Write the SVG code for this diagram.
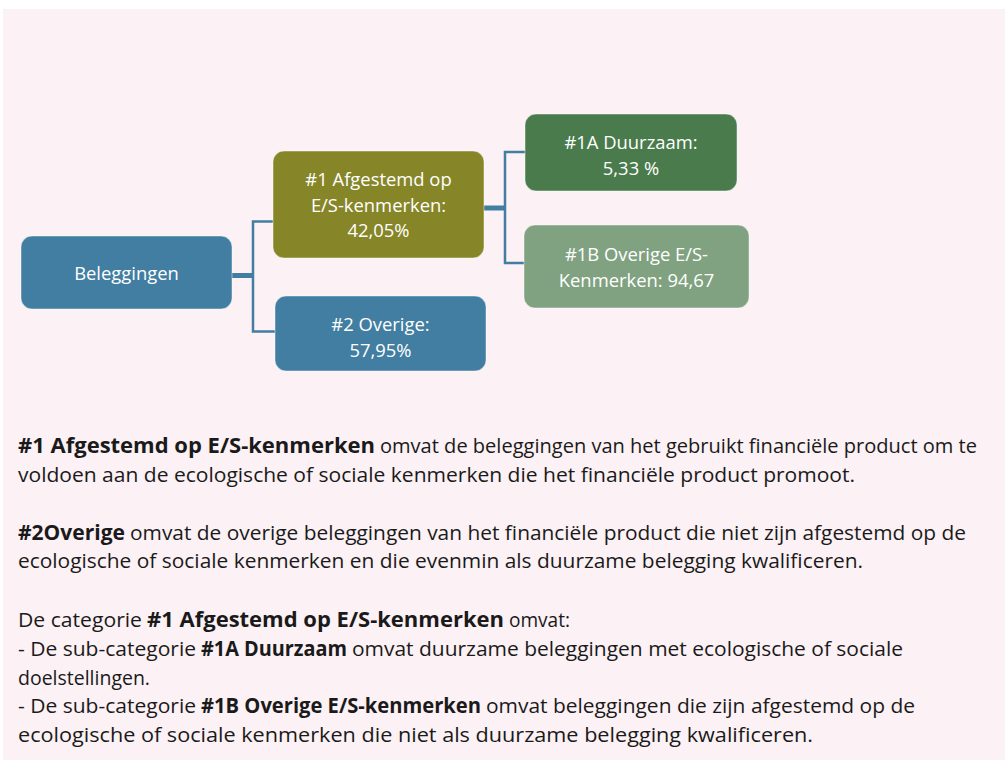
<svg xmlns="http://www.w3.org/2000/svg" width="1005" height="760" viewBox="0 0 1005 760">
<style>
.box{stroke:#ffffff;stroke-opacity:0.45;stroke-width:1}
.lbl{font-family:"Open Sans","Noto Sans","Liberation Sans",sans-serif;font-size:18.4px;fill:#ffffff;text-anchor:middle}
.body{font-family:"Open Sans","Noto Sans","Liberation Sans",sans-serif;font-size:20.5px;fill:#1a1a1a}
.b{font-weight:bold}
.thin{stroke:#417EA1;stroke-width:2.5;fill:none}
.thick{stroke:#417EA1;stroke-width:5;fill:none}
</style>
<rect x="0" y="0" width="1005" height="760" fill="#ffffff"/>
<rect x="3" y="9" width="1002" height="751" fill="#FCF1F4"/>
<g id="connectors">
<line class="thick" x1="232" y1="275.5" x2="253" y2="275.5"/>
<polyline class="thin" points="273,221.5 253,221.5 253,331.5 275,331.5"/>
<line class="thick" x1="484" y1="208" x2="505" y2="208"/>
<polyline class="thin" points="525,152 505,152 505,263 524,263"/>
</g>
<g id="node-beleggingen">
<rect class="box" x="21" y="236" width="211" height="73" rx="11" fill="#417EA1"/>
<text class="lbl" x="126.5" y="280">Beleggingen</text>
</g>
<g id="node-1">
<rect class="box" x="273" y="151" width="211" height="107" rx="11" fill="#868628"/>
<text class="lbl" x="378.5" y="186">#1 Afgestemd op</text>
<text class="lbl" x="378.5" y="211.5">E/S-kenmerken:</text>
<text class="lbl" x="378.5" y="237">42,05%</text>
</g>
<g id="node-2">
<rect class="box" x="275" y="296" width="211" height="75" rx="11" fill="#417EA1"/>
<text class="lbl" x="380.5" y="331">#2 Overige:</text>
<text class="lbl" x="380.5" y="357">57,95%</text>
</g>
<g id="node-1a">
<rect class="box" x="525" y="114" width="212" height="77" rx="11" fill="#4A7B4C"/>
<text class="lbl" x="631" y="149">#1A Duurzaam:</text>
<text class="lbl" x="631" y="175">5,33 %</text>
</g>
<g id="node-1b">
<rect class="box" x="524" y="225" width="225" height="83" rx="11" fill="#80A281"/>
<text class="lbl" x="636.5" y="261">#1B Overige E/S-</text>
<text class="lbl" x="636.5" y="287">Kenmerken: 94,67</text>
</g>
<g id="legend">
<text class="body b" x="18" y="453" textLength="357" lengthAdjust="spacingAndGlyphs">#1 Afgestemd op E/S-kenmerken</text>
<text class="body" x="380" y="453" textLength="597" lengthAdjust="spacingAndGlyphs">omvat de beleggingen van het gebruikt financiële product om te</text>
<text class="body" x="18" y="482" textLength="837" lengthAdjust="spacingAndGlyphs">voldoen aan de ecologische of sociale kenmerken die het financiële product promoot.</text>
<text class="body b" x="18" y="540" textLength="107" lengthAdjust="spacingAndGlyphs">#2Overige</text>
<text class="body" x="130" y="540" textLength="836" lengthAdjust="spacingAndGlyphs">omvat de overige beleggingen van het financiële product die niet zijn afgestemd op de</text>
<text class="body" x="18" y="568" textLength="845" lengthAdjust="spacingAndGlyphs">ecologische of sociale kenmerken en die evenmin als duurzame belegging kwalificeren.</text>
<text class="body" x="18" y="627" textLength="124" lengthAdjust="spacingAndGlyphs">De categorie</text>
<text class="body b" x="147" y="627" textLength="357" lengthAdjust="spacingAndGlyphs">#1 Afgestemd op E/S-kenmerken</text>
<text class="body" x="509" y="627" textLength="61" lengthAdjust="spacingAndGlyphs">omvat:</text>
<text class="body" x="18" y="656" textLength="178" lengthAdjust="spacingAndGlyphs">- De sub-categorie</text>
<text class="body b" x="201" y="656" textLength="146" lengthAdjust="spacingAndGlyphs">#1A Duurzaam</text>
<text class="body" x="352" y="656" textLength="551" lengthAdjust="spacingAndGlyphs">omvat duurzame beleggingen met ecologische of sociale</text>
<text class="body" x="18" y="685" textLength="132" lengthAdjust="spacingAndGlyphs">doelstellingen.</text>
<text class="body" x="18" y="713" textLength="178" lengthAdjust="spacingAndGlyphs">- De sub-categorie</text>
<text class="body b" x="201" y="713" textLength="280" lengthAdjust="spacingAndGlyphs">#1B Overige E/S-kenmerken</text>
<text class="body" x="486" y="713" textLength="429" lengthAdjust="spacingAndGlyphs">omvat beleggingen die zijn afgestemd op de</text>
<text class="body" x="18" y="742" textLength="795" lengthAdjust="spacingAndGlyphs">ecologische of sociale kenmerken die niet als duurzame belegging kwalificeren.</text>
</g>
</svg>
